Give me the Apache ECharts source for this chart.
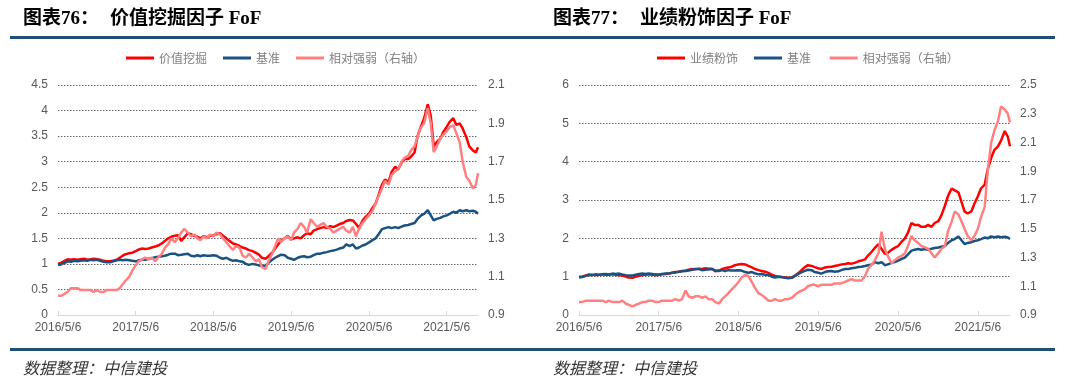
<!DOCTYPE html>
<html><head><meta charset="utf-8">
<script src="https://cdn.jsdelivr.net/npm/echarts@6/dist/echarts.min.js"></script>
<style>html,body{margin:0;padding:0;background:#fff}#c{width:1080px;height:392px}</style>
</head><body><div id="c"></div>
<script>
// ---- data (semi-monthly readings) ----
const dates = [
'2016-05-06','2016-05-20','2016-06-06','2016-06-20','2016-07-06','2016-07-20','2016-08-06','2016-08-20','2016-09-06','2016-09-20','2016-10-06','2016-10-20','2016-11-06','2016-11-20','2016-12-06','2016-12-20',
'2017-01-06','2017-01-20','2017-02-06','2017-02-20','2017-03-06','2017-03-20','2017-04-06','2017-04-20','2017-05-06','2017-05-20','2017-06-06','2017-06-20','2017-07-06','2017-07-20','2017-08-06','2017-08-20','2017-09-06','2017-09-20','2017-10-06','2017-10-20','2017-11-06','2017-11-20','2017-12-06','2017-12-20',
'2018-01-06','2018-01-20','2018-02-06','2018-02-20','2018-03-06','2018-03-20','2018-04-06','2018-04-20','2018-05-06','2018-05-20','2018-06-06','2018-06-20','2018-07-06','2018-07-20','2018-08-06','2018-08-20','2018-09-06','2018-09-20','2018-10-06','2018-10-20','2018-11-06','2018-11-20','2018-12-06','2018-12-20',
'2019-01-06','2019-01-20','2019-02-06','2019-02-20','2019-03-06','2019-03-20','2019-04-06','2019-04-20','2019-05-06','2019-05-20','2019-06-06','2019-06-20','2019-07-06','2019-07-20','2019-08-06','2019-08-20','2019-09-06','2019-09-20','2019-10-06','2019-10-20','2019-11-06','2019-11-20','2019-12-06','2019-12-20',
'2020-01-06','2020-01-20','2020-02-06','2020-02-20','2020-03-06','2020-03-20','2020-04-06','2020-04-20','2020-05-06','2020-05-20','2020-06-06','2020-06-20','2020-07-06','2020-07-20','2020-08-06','2020-08-20','2020-09-06','2020-09-20','2020-10-06','2020-10-20','2020-11-06','2020-11-20','2020-12-06','2020-12-20',
'2021-01-06','2021-01-20','2021-02-06','2021-02-20','2021-03-06','2021-03-20','2021-04-06','2021-04-20','2021-05-06','2021-05-20','2021-06-06','2021-06-20','2021-07-06','2021-07-20','2021-08-06','2021-08-20','2021-09-06','2021-09-20','2021-09-30'
];
const xTickLabels = ['2016/5/6','2017/5/6','2018/5/6','2019/5/6','2020/5/6','2021/5/6'];

const benchmark = [
0.98,0.99,1.02,1.05,1.04,1.06,1.05,1.06,1.07,1.06,
1.08,1.07,1.08,1.06,1.04,1.03,1.03,1.05,1.07,1.08,
1.07,1.08,1.07,1.06,1.05,1.07,1.08,1.08,1.10,1.11,
1.13,1.14,1.15,1.16,1.18,1.20,1.20,1.17,1.18,1.19,
1.20,1.16,1.15,1.17,1.15,1.17,1.16,1.16,1.17,1.16,
1.12,1.10,1.12,1.09,1.06,1.07,1.05,1.04,1.00,0.98,
1.00,0.99,0.97,0.96,0.97,1.02,1.08,1.12,1.15,1.18,
1.17,1.12,1.10,1.08,1.12,1.14,1.15,1.13,1.14,1.17,
1.20,1.20,1.22,1.23,1.25,1.26,1.28,1.30,1.32,1.38,
1.35,1.38,1.30,1.32,1.36,1.38,1.42,1.46,1.50,1.58,
1.68,1.70,1.72,1.70,1.72,1.70,1.73,1.75,1.76,1.78,
1.80,1.88,1.95,1.98,2.05,1.95,1.85,1.88,1.90,1.93,
1.95,1.98,2.02,2.00,2.05,2.03,2.05,2.03,2.04,2.02,
1.98];

const valueFoF = [
1.00,1.02,1.06,1.09,1.08,1.09,1.08,1.09,1.10,1.08,
1.09,1.10,1.09,1.08,1.06,1.05,1.05,1.06,1.08,1.12,
1.16,1.19,1.21,1.22,1.25,1.28,1.30,1.29,1.30,1.32,
1.34,1.36,1.40,1.45,1.50,1.53,1.55,1.56,1.45,1.52,
1.60,1.58,1.55,1.53,1.50,1.54,1.52,1.55,1.56,1.58,
1.60,1.55,1.50,1.45,1.40,1.38,1.35,1.32,1.30,1.27,
1.25,1.22,1.18,1.12,1.10,1.15,1.22,1.30,1.38,1.45,
1.50,1.55,1.48,1.50,1.52,1.50,1.56,1.60,1.58,1.65,
1.68,1.70,1.72,1.70,1.74,1.72,1.75,1.78,1.80,1.84,
1.86,1.85,1.78,1.70,1.85,1.92,1.98,2.08,2.18,2.35,
2.55,2.65,2.60,2.80,2.90,2.85,2.98,3.05,3.05,3.10,
3.18,3.50,3.70,3.85,4.12,3.90,3.30,3.38,3.45,3.58,
3.68,3.78,3.85,3.72,3.75,3.65,3.48,3.30,3.22,3.18,
3.28];

const valueRel = [
1.00,1.00,1.01,1.02,1.04,1.04,1.04,1.03,1.03,1.03,
1.03,1.02,1.03,1.02,1.02,1.03,1.03,1.03,1.03,1.04,
1.06,1.08,1.10,1.13,1.16,1.18,1.19,1.20,1.19,1.20,
1.18,1.20,1.22,1.25,1.27,1.30,1.28,1.30,1.33,1.35,
1.33,1.31,1.32,1.30,1.29,1.31,1.30,1.32,1.31,1.33,
1.32,1.30,1.28,1.26,1.24,1.26,1.25,1.21,1.20,1.22,
1.20,1.18,1.19,1.15,1.14,1.18,1.22,1.26,1.30,1.28,
1.30,1.31,1.29,1.33,1.35,1.38,1.36,1.33,1.40,1.38,
1.36,1.37,1.38,1.36,1.35,1.33,1.34,1.35,1.36,1.34,
1.33,1.36,1.31,1.35,1.38,1.40,1.42,1.44,1.48,1.52,
1.56,1.60,1.58,1.63,1.65,1.66,1.70,1.72,1.73,1.76,
1.78,1.83,1.88,1.90,1.98,1.90,1.75,1.78,1.82,1.84,
1.86,1.88,1.89,1.85,1.80,1.70,1.62,1.60,1.56,1.58,
1.64];

const earningsFoF = [
1.00,1.00,1.03,1.05,1.05,1.04,1.05,1.06,1.05,1.05,
1.06,1.05,1.04,1.03,1.00,0.98,0.97,1.00,1.02,1.04,
1.05,1.06,1.05,1.04,1.05,1.06,1.07,1.08,1.10,1.12,
1.13,1.15,1.16,1.18,1.20,1.19,1.21,1.20,1.22,1.21,
1.20,1.14,1.16,1.20,1.22,1.24,1.26,1.30,1.32,1.33,
1.32,1.28,1.24,1.20,1.17,1.15,1.13,1.10,1.05,1.02,
1.00,0.99,0.98,0.97,0.98,1.03,1.10,1.18,1.25,1.30,
1.28,1.25,1.22,1.20,1.24,1.25,1.26,1.28,1.30,1.32,
1.33,1.35,1.34,1.36,1.40,1.42,1.45,1.55,1.65,1.75,
1.85,1.72,1.60,1.62,1.70,1.75,1.80,1.90,2.00,2.15,
2.40,2.35,2.35,2.30,2.30,2.35,2.30,2.40,2.45,2.60,
2.85,3.10,3.30,3.25,3.20,2.95,2.70,2.65,2.70,2.90,
3.10,3.30,3.40,3.80,4.10,4.30,4.40,4.55,4.80,4.65,
4.40];

const earningsRel = [
0.99,0.99,1.00,1.00,1.00,1.00,1.00,1.00,0.99,1.00,
0.99,0.99,0.99,1.00,0.98,0.97,0.96,0.97,0.98,0.99,
0.99,1.00,1.00,0.99,0.99,1.00,1.00,1.00,1.00,1.01,
1.00,1.01,1.07,1.03,1.02,1.03,1.03,1.02,1.03,1.01,
1.01,0.99,0.98,1.01,1.03,1.05,1.08,1.10,1.13,1.16,
1.18,1.17,1.13,1.09,1.05,1.04,1.02,1.00,1.00,1.01,
1.00,1.00,1.01,1.01,1.02,1.04,1.06,1.07,1.08,1.10,
1.11,1.11,1.10,1.11,1.11,1.11,1.11,1.12,1.12,1.12,
1.13,1.14,1.15,1.14,1.14,1.14,1.17,1.22,1.25,1.28,
1.33,1.48,1.36,1.31,1.26,1.28,1.30,1.31,1.33,1.38,
1.45,1.42,1.40,1.38,1.37,1.36,1.33,1.30,1.33,1.36,
1.38,1.48,1.55,1.62,1.60,1.55,1.50,1.45,1.42,1.45,
1.50,1.58,1.65,1.90,2.10,2.18,2.25,2.35,2.33,2.30,
2.24];

const relTicksLeft = [0.9, 1.1, 1.3, 1.5, 1.7, 1.9, 2.1];
const relTicksRight = [0.9, 1.1, 1.3, 1.5, 1.7, 1.9, 2.1, 2.3, 2.5];

// ---- build ----
const toTs = s => { const p = s.split(/[-\/]/).map(Number); return Date.UTC(p[0], p[1]-1, p[2]); };
const tickTs = xTickLabels.map(toTs);
const fmt = v => { const i = tickTs.indexOf(v); if (i >= 0) return xTickLabels[i]; const d = new Date(v); return d.getUTCFullYear()+'/'+(d.getUTCMonth()+1)+'/'+d.getUTCDate(); };
const pairs = arr => dates.map((d,i) => [toTs(d), arr[i]]);

const RED='#ff0000', BLUE='#1a5282', PINK='#ff8080';
const labelFont = {color:'#595959', fontSize:12, fontFamily:'"Liberation Sans", Arial, sans-serif'};

function xAxisCfg(gi){
  return {type:'value', gridIndex:gi, min:toTs(dates[0]), max:toTs(dates[dates.length-1]),
    axisLine:{show:true, onZero:false, lineStyle:{color:'#d9d9d9', width:1}},
    axisTick:{show:true, inside:true, length:4, customValues:tickTs, lineStyle:{color:'#d9d9d9'}},
    axisLabel:Object.assign({customValues:tickTs, formatter:fmt, margin:7, hideOverlap:false}, labelFont),
    splitLine:{show:false}};
}
function yLeft(gi, max, interval){
  return {type:'value', gridIndex:gi, position:'left', min:0, max:max, interval:interval,
    axisLine:{show:false}, axisTick:{show:false},
    axisLabel:Object.assign({margin:10}, labelFont),
    splitLine:{show:true, showMinLine:false, lineStyle:{color:'#666', type:[1.5,1.5], width:1}}};
}
function yRight(gi, min, max, ticks){
  return {type:'value', gridIndex:gi, position:'right', min:min, max:max,
    axisLine:{show:false}, axisTick:{show:false},
    axisLabel:Object.assign({margin:10, customValues:ticks}, labelFont),
    splitLine:{show:false}};
}
function line(name, data, color, xi, yi){
  return {type:'line', name:name, data:data, xAxisIndex:xi, yAxisIndex:yi, showSymbol:false, symbol:'none',
    lineStyle:{color:color, width:2.5}, itemStyle:{color:color}, animation:false, emphasis:{disabled:true}};
}
const legendBase = {orient:'horizontal', icon:'rect', itemWidth:28, itemHeight:3, itemGap:16, padding:0,
  textStyle:{color:'#808080', fontSize:12, fontFamily:'"Noto Sans CJK SC", sans-serif'}, top:52};

const titleFont = '"Liberation Serif", "Noto Sans CJK SC", serif';
const option = {
  animation:false,
  backgroundColor:'#ffffff',
  grid:[
    {left:58, top:85, width:420, height:230, outerBoundsMode:'none'},
    {left:579, top:85, width:431, height:230, outerBoundsMode:'none'}
  ],
  xAxis:[xAxisCfg(0), xAxisCfg(1)],
  yAxis:[yLeft(0,4.5,0.5), yRight(0,0.9,2.1,relTicksLeft), yLeft(1,6,1), yRight(1,0.9,2.5,relTicksRight)],
  legend:[
    Object.assign({left:126, data:['价值挖掘','基准','相对强弱（右轴）']}, legendBase),
    Object.assign({left:657, data:['业绩粉饰','基准 ','相对强弱（右轴） ']}, legendBase)
  ],
  series:[
    line('价值挖掘', pairs(valueFoF), RED, 0, 0),
    line('基准', pairs(benchmark), BLUE, 0, 0),
    line('相对强弱（右轴）', pairs(valueRel), PINK, 0, 1),
    line('业绩粉饰', pairs(earningsFoF), RED, 1, 2),
    line('基准 ', pairs(benchmark), BLUE, 1, 2),
    line('相对强弱（右轴） ', pairs(earningsRel), PINK, 1, 3)
  ],
  graphic:[
    {type:'rect', shape:{x:10, y:36, width:1045, height:3}, style:{fill:'#1f4e79'}},
    {type:'rect', shape:{x:10, y:348, width:1045, height:3}, style:{fill:'#1f4e79'}},
    {type:'text', x:23, y:19, style:{text:'图表76：', fontSize:19, fontWeight:'bold', fontFamily:titleFont, fill:'#000', verticalAlign:'middle'}},
    {type:'text', x:110, y:19, style:{text:'价值挖掘因子 FoF', fontSize:19, fontWeight:'bold', fontFamily:titleFont, fill:'#000', verticalAlign:'middle'}},
    {type:'text', x:553, y:19, style:{text:'图表77：', fontSize:19, fontWeight:'bold', fontFamily:titleFont, fill:'#000', verticalAlign:'middle'}},
    {type:'text', x:640, y:19, style:{text:'业绩粉饰因子 FoF', fontSize:19, fontWeight:'bold', fontFamily:titleFont, fill:'#000', verticalAlign:'middle'}},
    {type:'text', x:23, y:368, style:{text:'数据整理：中信建投', fontSize:16, fontStyle:'italic', fontFamily:'"Noto Sans CJK SC", sans-serif', fill:'#333', verticalAlign:'middle'}},
    {type:'text', x:553, y:368, style:{text:'数据整理：中信建投', fontSize:16, fontStyle:'italic', fontFamily:'"Noto Sans CJK SC", sans-serif', fill:'#333', verticalAlign:'middle'}}
  ]
};
const chart = echarts.init(document.getElementById('c'), null, {renderer:'canvas'});
chart.setOption(option);
</script></body></html>
